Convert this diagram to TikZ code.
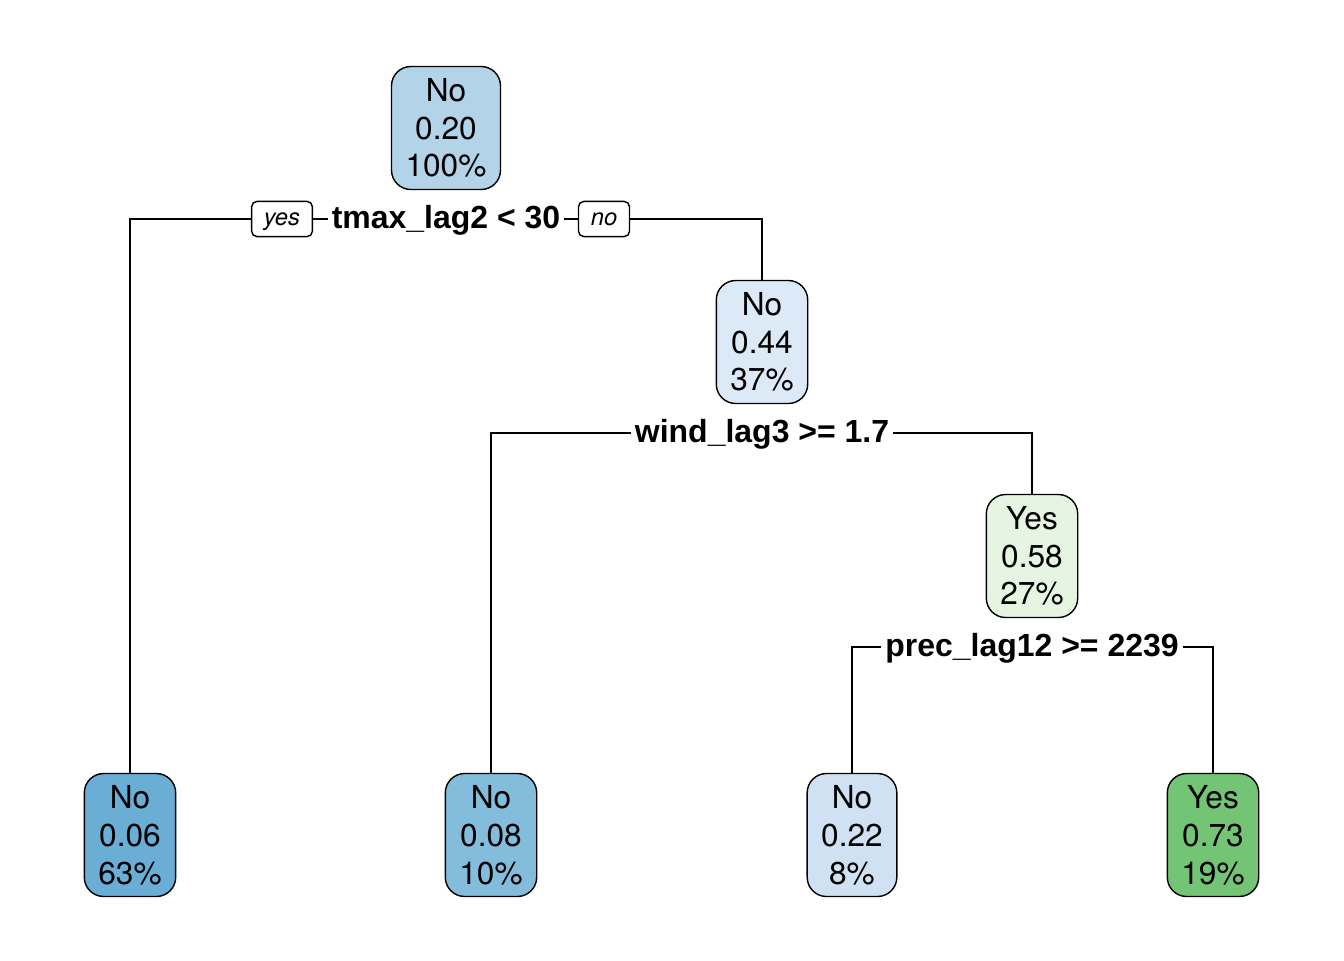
\documentclass[tikz,border=0pt]{standalone}
\usepackage{fontspec}
\setmainfont{TeX Gyre Heros}
\newfontfamily\splitfont{Liberation Sans}
\usetikzlibrary{arrows}

\definecolor{rootblue}{HTML}{B3D3E8}
\definecolor{paleblue}{HTML}{DCE9F6}
\definecolor{deepblue}{HTML}{6AAED6}
\definecolor{midblue}{HTML}{84BCDB}
\definecolor{lightblue}{HTML}{CFE1F2}
\definecolor{palegreen}{HTML}{E6F5E1}
\definecolor{deepgreen}{HTML}{74C476}

\begin{document}
\begin{tikzpicture}[x=0.02cm,y=-0.02cm,line width=0.8pt,
	leaf/.style={draw,rounded corners=11pt,align=center,inner xsep=8pt,inner ysep=2pt,minimum height=70pt,
		font=\fontsize{18}{21.5}\selectfont},
	split/.style={inner xsep=2pt,inner ysep=1pt,font=\splitfont\fontsize{18.2}{21.5}\selectfont\bfseries},
	answer/.style={draw,rounded corners=3pt,inner xsep=7pt,inner ysep=0pt,minimum height=20pt,
		text height=9.5pt,text depth=2pt,font=\fontsize{13.5}{15}\selectfont\itshape}]
			\useasboundingbox (0,0) rectangle (1344,960);
			% inner nodes
			\node[leaf,fill=rootblue]  (root) at (446,128) {No\\0.20\\100\%};
			\node[leaf,fill=paleblue]  (n2)   at (762,342) {No\\0.44\\37\%};
			\node[leaf,fill=palegreen] (n3)   at (1032,556) {Yes\\0.58\\27\%};
			% leaves
			\node[leaf,fill=deepblue]  (l1) at (130,835)  {No\\0.06\\63\%};
			\node[leaf,fill=midblue]   (l2) at (491,835)  {No\\0.08\\10\%};
			\node[leaf,fill=lightblue] (l3) at (852,835)  {No\\0.22\\8\%};
			\node[leaf,fill=deepgreen] (l4) at (1213,835) {Yes\\0.73\\19\%};
			% splits
			\node[split] (s1) at (446,220)  {tmax\_lag2 < 30};
			\node[split] (s2) at (762,434)  {wind\_lag3 >= 1.7};
			\node[split] (s3) at (1032,648) {prec\_lag12 >= 2239};
			\node[answer] (yes) at (282,219) {yes};
			\node[answer] (no)  at (604,219) {no};
			% branches
			\draw (yes.west) -| (l1.north);
			\draw (yes.east) -- (yes.east -| s1.west);
			\draw (no.west -| s1.east) -- (no.west);
			\draw (no.east) -| (n2.north);
			\draw (s2.west |- 0,433) -| (l2.north);
			\draw (s2.east |- 0,433) -| (n3.north);
			\draw (s3.west |- 0,647) -| (l3.north);
			\draw (s3.east |- 0,647) -| (l4.north);
		\end{tikzpicture}
\end{document}
